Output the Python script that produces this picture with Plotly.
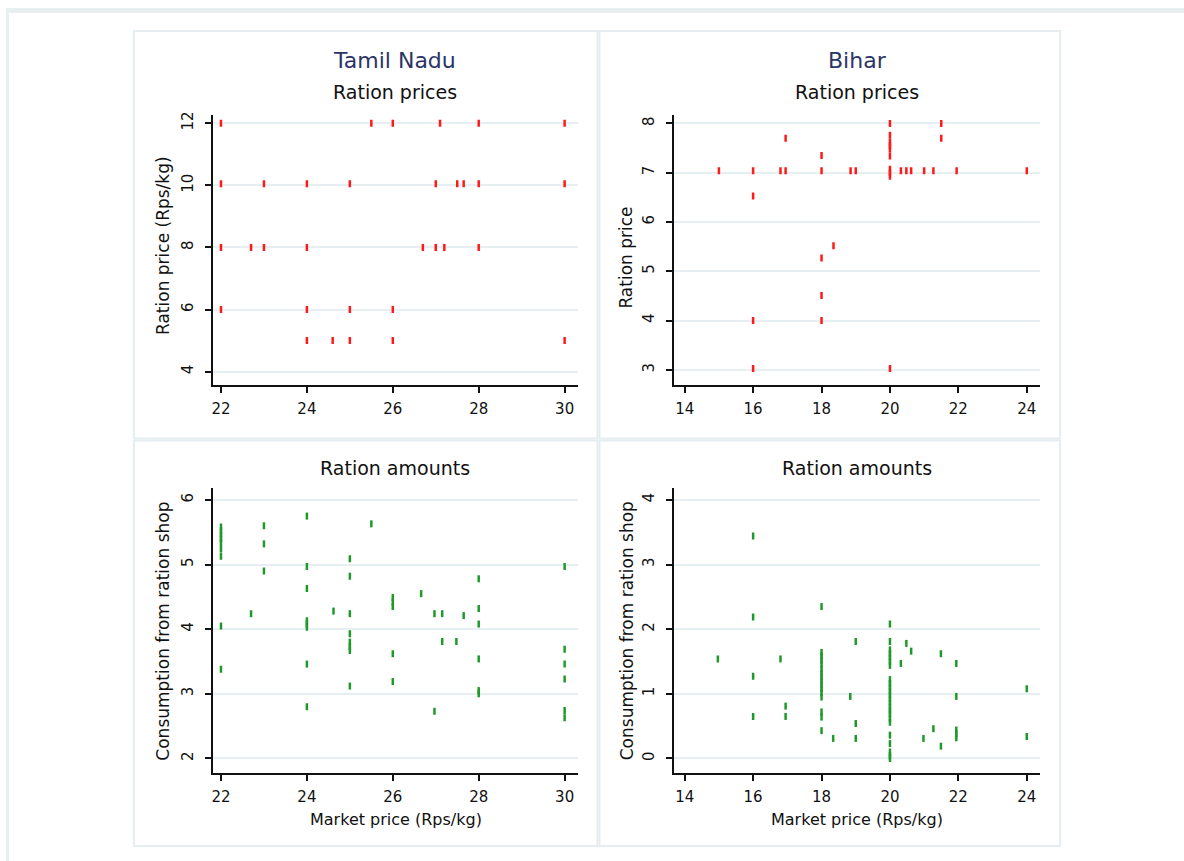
import plotly.graph_objects as go

# ---- Tamil Nadu: ration price vs market price ----
tn_price_mkt = [22, 25.5, 26, 27.1, 28, 30,
                22, 23, 24, 25, 27, 27.5, 27.65, 28, 30,
                22, 22.7, 23, 24, 26.7, 27, 27.2, 28,
                22, 24, 25, 26,
                24, 24.6, 25, 26, 30]
tn_price_ration = [12] * 6 + [10.05] * 9 + [8] * 8 + [6] * 4 + [5] * 5

# ---- Bihar: ration price vs market price ----
bh_price_mkt = [15,
                16, 16, 16, 16,
                16.8,
                16.95, 16.95,
                18, 18, 18, 18, 18,
                18.35, 18.85, 19,
                20, 20, 20, 20, 20, 20, 20, 20, 20, 20,
                20.32, 20.48, 20.62, 21, 21.27,
                21.5, 21.5,
                21.95, 24]
bh_price_ration = [7.04,
                   7.04, 6.53, 4.0, 3.03,
                   7.04,
                   7.04, 7.7,
                   7.35, 7.04, 5.27, 4.51, 4.0,
                   5.52, 7.04, 7.04,
                   8.0, 7.76, 7.62, 7.55, 7.48, 7.34, 7.07, 7.0, 6.93, 3.03,
                   7.04, 7.04, 7.04, 7.04, 7.04,
                   8.0, 7.7,
                   7.04, 7.04]

# ---- Tamil Nadu: consumption from ration shop vs market price ----
tn_amt_mkt = ([22] * 9 + [22.7] + [23] * 3 + [24] * 8 + [24.62] + [25] * 8
              + [25.5] + [26] * 5 + [26.66] + [26.97] * 2 + [27.15] * 2
              + [27.48] + [27.65] + [28] * 6 + [30] * 6)
tn_amt = [5.58, 5.52, 5.46, 5.40, 5.34, 5.24, 5.13, 4.05, 3.38,
          4.24,
          5.6, 5.32, 4.9,
          5.75, 4.97, 4.63, 4.13, 4.08, 4.03, 3.46, 2.8,
          4.28,
          5.09, 4.82, 4.24, 3.93, 3.8, 3.73, 3.67, 3.12,
          5.63,
          4.49, 4.42, 4.35, 3.62, 3.19,
          4.55,
          4.24, 2.73,
          4.24, 3.81,
          3.81,
          4.21,
          4.78, 4.32, 4.08, 3.54, 3.05, 3.0,
          4.97, 3.69, 3.46, 3.23, 2.74, 2.63]

# ---- Bihar: consumption from ration shop vs market price ----
bh_amt_mkt = ([14.97] + [16] * 4 + [16.8] + [16.95] * 2 + [18] * 16 + [18.34]
              + [18.84] + [19] * 3 + [20] * 24 + [20.32] + [20.48] + [20.62]
              + [20.98] + [21.27] + [21.49] * 2 + [21.94] * 5 + [24] * 2)
bh_amt = [1.54,
          3.44, 2.19, 1.27, 0.65,
          1.54,
          0.81, 0.65,
          2.35, 1.64, 1.58, 1.52, 1.46, 1.38, 1.32, 1.26, 1.2, 1.14, 1.08, 1.02,
          0.95, 0.72, 0.64, 0.43,
          0.31,
          0.96,
          1.81, 0.54, 0.31,
          2.08, 1.81, 1.68, 1.62, 1.56, 1.5, 1.44, 1.22, 1.16, 1.1, 1.04, 0.98,
          0.92, 0.86, 0.8, 0.74, 0.69, 0.62, 0.56, 0.36, 0.23, 0.1, 0.04, 0.0,
          1.47,
          1.78,
          1.66,
          0.31,
          0.46,
          1.62, 0.19,
          1.47, 0.96, 0.44, 0.38, 0.32,
          1.08, 0.34]

tn_xticks = [22, 24, 26, 28, 30]
bh_xticks = [14, 16, 18, 20, 22, 24]
tn_price_yticks = [4, 6, 8, 10, 12]
bh_price_yticks = [3, 4, 5, 6, 7, 8]
tn_amt_yticks = [2, 3, 4, 5, 6]
bh_amt_yticks = [0, 1, 2, 3, 4]

W, H = 1184, 861
FONT = "DejaVu Sans"
TEXT = "#111111"
GRID = "#e6eff1"
FRAME = "#e6edf0"
RED = "#ff1a1a"
GREEN = "#1f9a2a"


def fx(px):
    return px / W


def fy(py):
    return 1 - py / H


panels = [
    dict(x=tn_price_mkt, y=tn_price_ration, color=RED,
         xdom=(212, 577), ydom=(112, 383), xr=(21.81, 30.30), yr=(3.58, 12.28),
         xt=tn_xticks, yt=tn_price_yticks),
    dict(x=bh_price_mkt, y=bh_price_ration, color=RED,
         xdom=(674, 1040), ydom=(112, 383), xr=(13.70, 24.39), yr=(2.70, 8.18),
         xt=bh_xticks, yt=bh_price_yticks),
    dict(x=tn_amt_mkt, y=tn_amt, color=GREEN,
         xdom=(212, 577), ydom=(487, 773), xr=(21.81, 30.30), yr=(1.77, 6.18),
         xt=tn_xticks, yt=tn_amt_yticks),
    dict(x=bh_amt_mkt, y=bh_amt, color=GREEN,
         xdom=(674, 1040), ydom=(487, 773), xr=(13.70, 24.39), yr=(-0.23, 4.18),
         xt=bh_xticks, yt=bh_amt_yticks),
]

fig = go.Figure()
layout = {}
for i, p in enumerate(panels, start=1):
    sfx = "" if i == 1 else str(i)
    fig.add_trace(go.Scatter(
        x=p["x"], y=p["y"], mode="markers",
        xaxis="x" + sfx, yaxis="y" + sfx,
        marker=dict(symbol="line-ns", size=5, color=p["color"],
                    line=dict(color=p["color"], width=2.5)),
        showlegend=False, hoverinfo="x+y",
    ))
    layout["xaxis" + sfx] = dict(
        domain=[fx(p["xdom"][0]), fx(p["xdom"][1])],
        range=list(p["xr"]), anchor="y" + sfx,
        tickvals=p["xt"], ticks="outside", ticklen=6, tickwidth=2,
        tickcolor="#111", showline=True, linecolor="#111", linewidth=2,
        showgrid=False, zeroline=False, ticklabelstandoff=3,
        tickfont=dict(family=FONT, size=15, color=TEXT),
    )
    layout["yaxis" + sfx] = dict(
        domain=[fy(p["ydom"][1]), fy(p["ydom"][0])],
        range=list(p["yr"]), anchor="x" + sfx,
        tickvals=p["yt"], ticks="outside", ticklen=6, tickwidth=2,
        tickcolor="#111", showline=True, linecolor="#111", linewidth=2,
        showgrid=True, gridcolor=GRID, gridwidth=2, zeroline=False,
        tickangle=-90, ticklabelstandoff=6,
        tickfont=dict(family=FONT, size=15, color=TEXT),
    )

shapes = []
# page frame lines along the top and left edges
shapes.append(dict(type="rect", xref="paper", yref="paper",
                   x0=fx(5), x1=1, y0=fy(10), y1=fy(5),
                   fillcolor="#e9eff1", line=dict(width=0), layer="below"))
shapes.append(dict(type="rect", xref="paper", yref="paper",
                   x0=fx(5), x1=fx(8), y0=0, y1=fy(5),
                   fillcolor="#e9eff1", line=dict(width=0), layer="below"))
# boxes around each of the four panels
for (x0, y0, x1, y1) in [(133, 28, 597, 437), (599, 28, 1060, 437),
                         (133, 439, 597, 846), (599, 439, 1060, 846)]:
    shapes.append(dict(type="rect", xref="paper", yref="paper",
                       x0=fx(x0), x1=fx(x1), y0=fy(y1), y1=fy(y0),
                       line=dict(color=FRAME, width=2), layer="below"))

annotations = []


def label(text, x, y, size, color=TEXT, angle=0):
    annotations.append(dict(
        text=text, x=fx(x), y=fy(y), xref="paper", yref="paper",
        showarrow=False, xanchor="center", yanchor="middle", textangle=angle,
        font=dict(family=FONT, size=size, color=color),
    ))


label("Tamil Nadu", 394, 58, 22, color="#2b3566")
label("Bihar", 857, 58, 22, color="#2b3566")
label("Ration prices", 394, 89, 19)
label("Ration prices", 857, 89, 19)
label("Ration amounts", 394, 467, 19)
label("Ration amounts", 857, 467, 19)
label("Ration price (Rps/kg)", 162, 243, 17, angle=-90)
label("Ration price", 626, 255, 17, angle=-90)
label("Consumption from ration shop", 162, 630, 17, angle=-90)
label("Consumption from ration shop", 626, 630, 17, angle=-90)
label("Market price (Rps/kg)", 395, 819, 16)
label("Market price (Rps/kg)", 857, 819, 16)

fig.update_layout(
    width=W, height=H, margin=dict(l=0, r=0, t=0, b=0),
    paper_bgcolor="white", plot_bgcolor="white",
    shapes=shapes, annotations=annotations,
    font=dict(family=FONT, color=TEXT),
    **layout,
)

fig.write_html("out.html")
